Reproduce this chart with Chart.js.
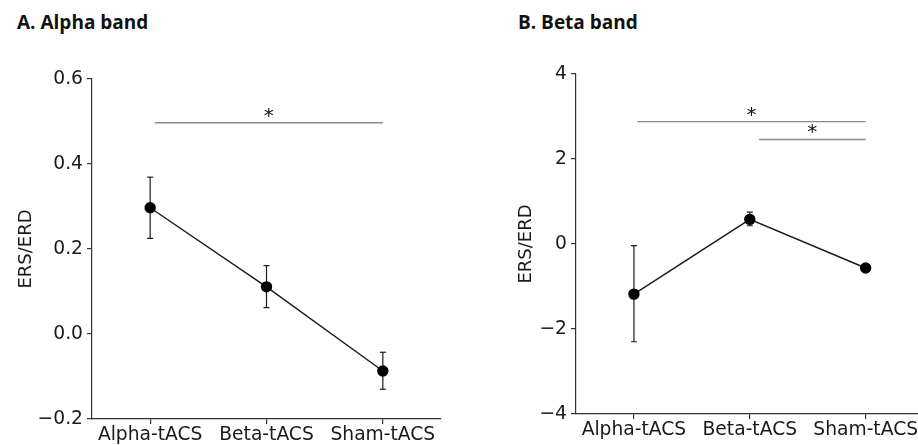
<!DOCTYPE html>
<html>
<head>
<meta charset="utf-8">
<script src="https://cdn.jsdelivr.net/npm/chart.js@4"></script>
<style>
  html, body { margin: 0; padding: 0; background: #fff; overflow: hidden; width: 918px; height: 445px; }
  .title { position: absolute; font-family: "Open Sans", sans-serif; font-weight: 700; font-size: 19px; color: #111; line-height: 24px; }
  canvas { position: absolute; top: 0; }
</style>
</head>
<body>
<div class="title" style="left:17px; top:10px;">A. Alpha band</div>
<div class="title" style="left:518px; top:10px;">B. Beta band</div>
<canvas id="chartA" width="460" height="445" style="left:0"></canvas>
<canvas id="chartB" width="440" height="445" style="left:490px"></canvas>
<script>
// =======================
// DATA
// =======================
const categories = ["Alpha-tACS", "Beta-tACS", "Sham-tACS"];

const alphaMean = [0.297, 0.111, -0.087];
const alphaLow  = [0.225, 0.062, -0.130];
const alphaHigh = [0.369, 0.161, -0.043];
const alphaTicks = [-0.2, 0, 0.2, 0.4, 0.6];
// significance bars: [from, to, level]
const alphaSig = [[0.04, 2, 0.497]];

const betaMean = [-1.18, 0.58, -0.565];
const betaLow  = [-2.30, 0.43, -0.60];
const betaHigh = [-0.04, 0.75, -0.53];
const betaTicks = [-4, -2, 0, 2, 4];
const betaSig = [[0.03, 2, 2.88], [1.08, 2, 2.46]];

const FONT = "'DejaVu Sans', sans-serif";
const INK = "#1a1a1a";

// =======================
// STAR PLUGIN
// =======================
const starPlugin = {
    id: "stars",
    afterDatasetsDraw(chart, args, opts) {
        const ctx = chart.ctx;
        const xs = chart.scales.x, ys = chart.scales.y;
        ctx.save();
        ctx.fillStyle = "#111";
        ctx.font = "20px " + FONT;
        ctx.textAlign = "center";
        ctx.textBaseline = "alphabetic";
        opts.bars.forEach(b => {
            const x = xs.getPixelForValue((b[0] + b[1]) / 2);
            const y = ys.getPixelForValue(b[2]);
            ctx.fillText("*", x, y - 1);
        });
        ctx.restore();
    }
};

// =======================
// PANEL
// =======================
function makePanel(id, cfg) {

    const datasets = [{
        data: cfg.mean.map((v, i) => ({x: i, y: v})),
        borderColor: INK,
        borderWidth: 1.4,
        pointRadius: 5,
        pointBackgroundColor: "#000",
        pointBorderColor: "#000",
        showLine: true
    }];

    cfg.mean.forEach((v, i) => {
        datasets.push({
            data: [{x: i, y: cfg.low[i]}, {x: i, y: cfg.high[i]}],
            borderColor: INK,
            borderWidth: 1.2,
            pointStyle: "line",
            pointRadius: 3,
            pointBorderWidth: 1.2,
            pointBorderColor: INK,
            showLine: true
        });
    });

    cfg.sig.forEach(b => {
        datasets.push({
            data: [{x: b[0], y: b[2]}, {x: b[1], y: b[2]}],
            borderColor: "#8a8a8a",
            borderWidth: 1.4,
            pointRadius: 0,
            showLine: true
        });
    });

    new Chart(document.getElementById(id), {
        type: "line",
        data: { datasets },
        plugins: [starPlugin],
        options: {
            responsive: false,
            animation: false,
            devicePixelRatio: 1,
            layout: { padding: cfg.pad },
            plugins: {
                legend: { display: false },
                tooltip: { enabled: false },
                stars: { bars: cfg.sig }
            },
            scales: {
                x: {
                    type: "linear",
                    min: -0.5,
                    max: 2.5,
                    afterBuildTicks: s => { s.ticks = categories.map((c, i) => ({value: i})); },
                    afterFit: s => { s.height = cfg.xh; },
                    ticks: {
                        color: INK,
                        font: { family: FONT, size: 18.7 },
                        padding: 0,
                        maxRotation: 0,
                        autoSkip: false,
                        callback: v => categories[v]
                    },
                    grid: { drawOnChartArea: false, drawTicks: true, tickLength: 5, color: "#333", lineWidth: 1.2 },
                    border: { color: "#333", width: 1.2 }
                },
                y: {
                    min: cfg.ticks[0],
                    max: cfg.ticks[cfg.ticks.length - 1],
                    afterBuildTicks: s => { s.ticks = cfg.ticks.map(v => ({value: v})); },
                    afterFit: s => { s.width = cfg.yw; },
                    ticks: {
                        color: INK,
                        font: { family: FONT, size: 18.7 },
                        padding: 4,
                        callback: cfg.fmt
                    },
                    grid: { drawOnChartArea: false, drawTicks: true, tickLength: 5, color: "#333", lineWidth: 1.2 },
                    border: { color: "#333", width: 1.2 },
                    title: {
                        display: true,
                        text: "ERS/ERD",
                        color: INK,
                        font: { family: FONT, size: 18 },
                        padding: { top: cfg.tp, bottom: 0 }
                    }
                }
            }
        }
    });
}

makePanel("chartA", {
    mean: alphaMean, low: alphaLow, high: alphaHigh, sig: alphaSig, ticks: alphaTicks,
    fmt: v => v.toFixed(1).replace("-", "\u2212"),
    pad: { left: 0, top: 79, right: 19, bottom: 0 },
    yw: 92, xh: 26, tp: 16
});

makePanel("chartB", {
    mean: betaMean, low: betaLow, high: betaHigh, sig: betaSig, ticks: betaTicks,
    fmt: v => String(v).replace("-", "\u2212"),
    pad: { left: 0, top: 74, right: 6, bottom: 0 },
    yw: 86, xh: 31, tp: 26
});
</script>
</body>
</html>
